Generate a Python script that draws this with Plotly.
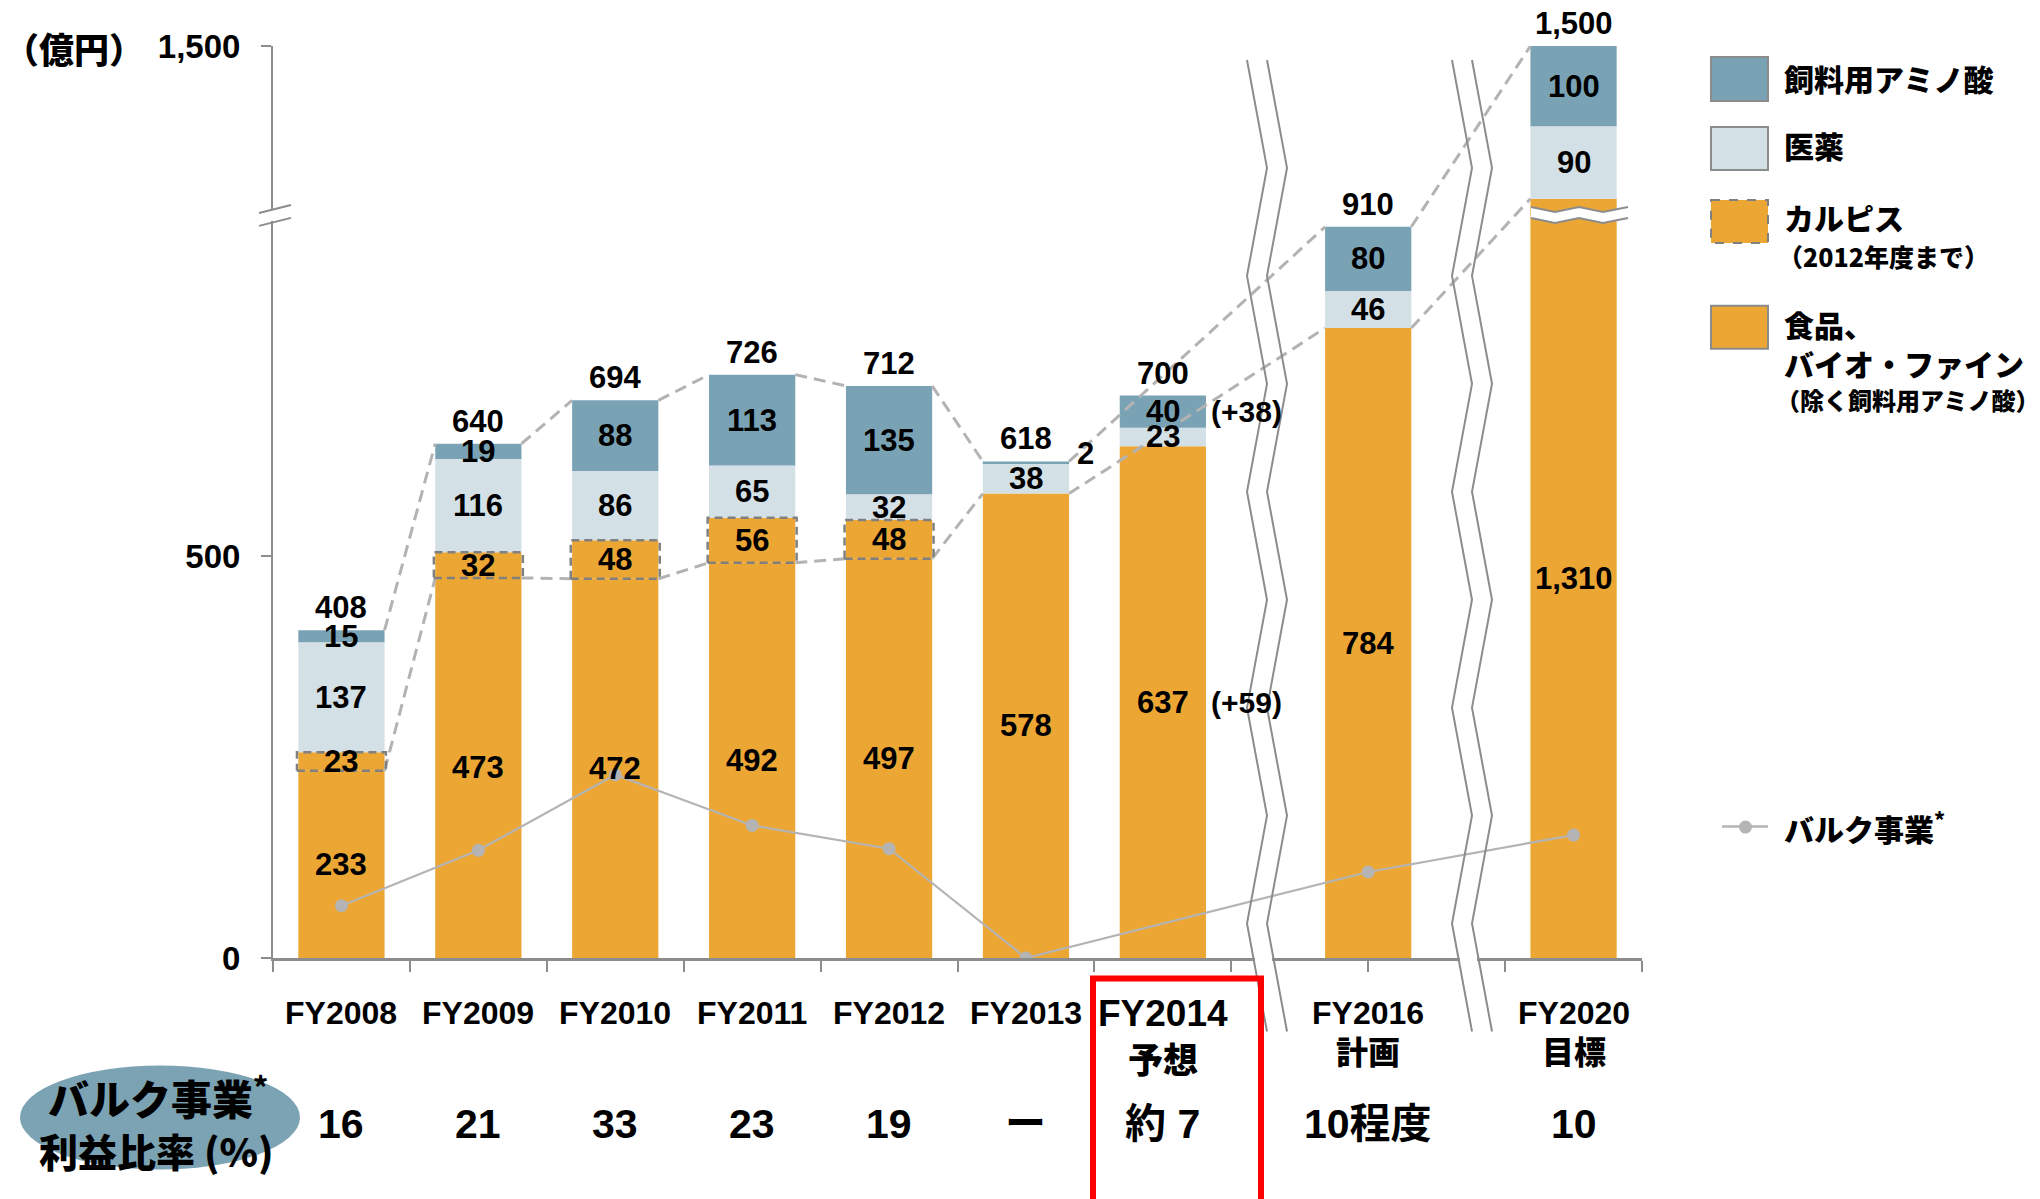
import plotly.graph_objects as go

# ---------------- data ----------------
categories = ["FY2008", "FY2009", "FY2010", "FY2011", "FY2012", "FY2013", "FY2014", "FY2016", "FY2020"]
category_notes = ["", "", "", "", "", "", "予想", "計画", "目標"]
food_bio = [233, 473, 472, 492, 497, 578, 637, 784, 1310]          # 食品、バイオ・ファイン
calpis = [23, 32, 48, 56, 48, None, None, None, None]               # カルピス（2012年度まで）
pharma = [137, 116, 86, 65, 32, 38, 23, 46, 90]                     # 医薬
feed_amino = [15, 19, 88, 113, 135, 2, 40, 80, 100]                 # 飼料用アミノ酸
totals = [408, 640, 694, 726, 712, 618, 700, 910, 1500]
bulk_profit = [65, 134, 228, 165, 136, 0, None, 107, 153]          # バルク事業*
bulk_ratio = ["16", "21", "33", "23", "19", "ー", "約 7", "10程度", "10"]
y_tick_values = [0, 500, 1500]
y_tick_text = ["0", "500", "1,500"]

# ---------------- layout / styling ----------------
X_POS = [0, 1, 2, 3, 4, 5, 6, 7.5, 9]
BAR_W = 0.63
HW = BAR_W / 2
FORECAST_IDX, PREV_IDX = 6, 5
CONNECT_PAIRS = [(0, 1), (1, 2), (2, 3), (3, 4), (4, 5), (5, 7), (7, 8)]
BREAK_FROM, BREAK_GAP = 930, 365


def to_axis(v):
    if v is None:
        return None
    return v if v <= BREAK_FROM else max(BREAK_FROM, v - BREAK_GAP)


FIG_W, FIG_H = 2040, 1199
PL, PR, PT, PB = 273, 1642, 46, 958.5


def pxx(x):
    return (x - PL) / (PR - PL)


def pxy(y):
    return (PB - y) / (PB - PT)


C_FEED = "#79A3B4"
C_PHARMA = "#D3E0E6"
C_FOOD = "#ECA634"
C_AX = "#8C8C8C"
C_DASH = "#B3B3B3"
C_BULK = "#B4B4B4"
C_OVAL = "#7CA3B4"
LAT = "Liberation Sans, Arial, Noto Sans CJK JP, sans-serif"
JP = "Noto Sans CJK JP, Liberation Sans, sans-serif"

n = len(categories)
cal = [c or 0 for c in calpis]
lvl1 = list(food_bio)
lvl2 = [f + c for f, c in zip(lvl1, cal)]
lvl3 = [a + p for a, p in zip(lvl2, pharma)]
lvl4 = [a + f for a, f in zip(lvl3, feed_amino)]

fig = go.Figure()


def add_bar(bottom, top, color, mask=None):
    b = [to_axis(v) for v in bottom]
    t = [to_axis(v) for v in top]
    y = [(tt - bb) if (mask is None or mask[i]) else None for i, (bb, tt) in enumerate(zip(b, t))]
    fig.add_trace(go.Bar(x=X_POS, y=y, base=b, width=BAR_W,
                         marker=dict(color=color, line=dict(width=0)),
                         showlegend=False, hoverinfo="skip"))


add_bar([0] * n, lvl1, C_FOOD)
add_bar(lvl1, lvl2, C_FOOD, mask=[c is not None for c in calpis])
add_bar(lvl2, lvl3, C_PHARMA)
add_bar(lvl3, lvl4, C_FEED)

# dashed connectors (totals and food tops)
cx, cy_top, cy_food = [], [], []
for a, b in CONNECT_PAIRS:
    cx += [X_POS[a] + HW, X_POS[b] - HW, None]
    cy_top += [to_axis(totals[a]), to_axis(totals[b]), None]
    cy_food += [to_axis(food_bio[a]), to_axis(food_bio[b]), None]
for yy in (cy_top, cy_food):
    fig.add_trace(go.Scatter(x=cx, y=yy, mode="lines", showlegend=False, hoverinfo="skip",
                             line=dict(color=C_DASH, width=3, dash="12px,7px")))

# dashed outline of Calpis segments
ox, oy = [], []
for i in range(n):
    if calpis[i] is None:
        continue
    xl, xr = X_POS[i] - HW - 0.01, X_POS[i] + HW + 0.01
    b, t = to_axis(lvl1[i]), to_axis(lvl2[i])
    ox += [xl, xr, xr, xl, xl, None]
    oy += [b, b, t, t, b, None]
fig.add_trace(go.Scatter(x=ox, y=oy, mode="lines", showlegend=False, hoverinfo="skip",
                         line=dict(color="#808080", width=2.5, dash="8px,5px")))

# bulk business line
bx = [X_POS[i] for i in range(n) if bulk_profit[i] is not None]
by = [bulk_profit[i] for i in range(n) if bulk_profit[i] is not None]
fig.add_trace(go.Scatter(x=bx, y=by, mode="lines+markers", showlegend=False, hoverinfo="skip",
                         line=dict(color=C_BULK, width=2.2),
                         marker=dict(color=C_BULK, size=13)))

# ---------------- annotations ----------------
ann = []


def label(x, yv, text, size=31, family=LAT, xanchor="center", yanchor="middle",
          xshift=0, yshift=0, xref="x", yref="y", weight=700):
    ann.append(dict(x=x, y=yv, xref=xref, yref=yref, text=text, showarrow=False,
                    font=dict(family=family, size=size, color="#000000", weight=weight),
                    xanchor=xanchor, yanchor=yanchor, xshift=xshift, yshift=yshift))


def mid(a, b):
    return (to_axis(a) + to_axis(b)) / 2


for i in range(n):
    x = X_POS[i]
    label(x, mid(0, lvl1[i]), f"{food_bio[i]:,}")
    if calpis[i] is not None:
        label(x, mid(lvl1[i], lvl2[i]), f"{calpis[i]:,}")
    label(x, mid(lvl2[i], lvl3[i]), f"{pharma[i]:,}")
    if feed_amino[i] >= 5:
        label(x, mid(lvl3[i], lvl4[i]), f"{feed_amino[i]:,}")
    else:
        label(x + HW, to_axis(lvl4[i]), f"{feed_amino[i]:,}", xanchor="left", xshift=6, yshift=8)
    label(x, to_axis(totals[i]), f"{totals[i]:,}", yanchor="bottom", yshift=3)

# forecast deltas
d_feed = feed_amino[FORECAST_IDX] - feed_amino[PREV_IDX]
d_food = food_bio[FORECAST_IDX] - food_bio[PREV_IDX]
xf = X_POS[FORECAST_IDX] + HW
label(xf, mid(lvl3[FORECAST_IDX], lvl4[FORECAST_IDX]), f"(+{d_feed})", xanchor="left", xshift=3, size=30)
label(xf, mid(0, lvl1[FORECAST_IDX]), f"(+{d_food})", xanchor="left", xshift=3, size=30)

# category labels & bottom ratio row
for i in range(n):
    big = i == FORECAST_IDX
    label(X_POS[i], pxy(1014), categories[i], size=37 if big else 32, yref="paper")
    if category_notes[i]:
        label(X_POS[i], pxy(1058 if big else 1051), category_notes[i], size=35 if big else 32,
              family=JP, yref="paper", weight=900)
    label(X_POS[i], pxy(1125), bulk_ratio[i], size=41, yref="paper")

# unit label, oval text, legend text
label(pxx(74), pxy(48), "（億円）", size=35, family=JP, xref="paper", yref="paper", weight=900)
label(pxx(158), pxy(1097), "バルク事業<sup>*</sup>", size=41, family=JP, xref="paper", yref="paper", weight=900)
label(pxx(156), pxy(1151), "利益比率 (%)", size=39, family=JP, xref="paper", yref="paper", weight=900)

legend_text = [
    (1782, 78, "飼料用アミノ酸", 30),
    (1782, 145, "医薬", 30),
    (1782, 217, "カルピス", 30),
    (1776, 256, "（2012年度まで）", 25),
    (1782, 324, "食品、", 30),
    (1782, 363, "バイオ・ファイン", 30),
    (1774, 400, "（除く飼料用アミノ酸）", 24),
    (1782, 827, "バルク事業<sup>*</sup>", 30),
]
for x, y, t, s in legend_text:
    label(pxx(x), pxy(y), t, size=s, family=JP, xanchor="left", xref="paper", yref="paper", weight=900)

# ---------------- shapes ----------------
shapes = []


def rect(x0, y0, x1, y1, fill=None, lc=None, lw=0, dash="solid", layer="above"):
    shapes.append(dict(type="rect", xref="paper", yref="paper",
                       x0=pxx(x0), x1=pxx(x1), y0=pxy(y0), y1=pxy(y1),
                       fillcolor=fill if fill else "rgba(0,0,0,0)",
                       line=dict(color=lc if lc else "rgba(0,0,0,0)", width=lw, dash=dash),
                       layer=layer))


def path(points, lc=C_AX, lw=2, fill=None, close=False):
    p = "M " + " L ".join(f"{pxx(x):.5f},{pxy(y):.5f}" for x, y in points) + (" Z" if close else "")
    shapes.append(dict(type="path", path=p, xref="paper", yref="paper",
                       line=dict(color=lc, width=lw),
                       fillcolor=fill if fill else "rgba(0,0,0,0)", layer="above"))


# vertical zigzag breaks
for x0 in (1247, 1452):
    rect(x0 + 8, 952, x0 + 25, 967, fill="#FFFFFF")
    ys = [60 + 108 * k for k in range(10)]
    for dx in (0, 20):
        pts = [(x0 + dx + (20 if k % 2 else 0), y) for k, y in enumerate(ys)]
        path(pts, lw=2)

# y-axis break mark
rect(266, 209, 281, 221, fill="#FFFFFF")
path([(259, 213), (291, 205)], lw=2)
path([(259, 226), (291, 218)], lw=2)

# wave break inside FY2020 bar
wx = [1531, 1555, 1579, 1603, 1628]
top = [(x, 207 if k % 2 == 0 else 212) for k, x in enumerate(wx)]
bot = [(x, 218 if k % 2 == 0 else 223) for k, x in enumerate(wx)]
path(top + bot[::-1], lc="rgba(0,0,0,0)", lw=0, fill="#FFFFFF", close=True)
path(top, lw=2)
path(bot, lw=2)

# red highlight box
rect(1093, 979, 1261, 1212, lc="#FF0000", lw=6)

# oval behind bulk label
shapes.append(dict(type="circle", xref="paper", yref="paper", x0=pxx(20), x1=pxx(300),
                   y0=pxy(1066), y1=pxy(1170), fillcolor=C_OVAL, line=dict(width=0), layer="above"))

# legend swatches
rect(1711, 57, 1768, 101, fill=C_FEED, lc=C_AX, lw=2)
rect(1711, 127, 1768, 170, fill=C_PHARMA, lc=C_AX, lw=2)
rect(1711, 200, 1768, 243, fill=C_FOOD, lc="#808080", lw=2, dash="dash")
rect(1711, 306, 1768, 349, fill=C_FOOD, lc=C_AX, lw=2)
path([(1722, 827), (1768, 827)], lc=C_BULK, lw=2.5)
shapes.append(dict(type="circle", xref="paper", yref="paper", x0=pxx(1739), x1=pxx(1752),
                   y0=pxy(821), y1=pxy(834), fillcolor=C_BULK, line=dict(width=0), layer="above"))

# ---------------- layout ----------------
fig.update_layout(
    width=FIG_W, height=FIG_H, autosize=False,
    margin=dict(l=PL, r=FIG_W - PR, t=PT, b=FIG_H - PB, pad=0),
    paper_bgcolor="#FFFFFF", plot_bgcolor="rgba(0,0,0,0)",
    barmode="overlay", showlegend=False,
    annotations=ann, shapes=shapes,
    xaxis=dict(range=[-0.5, 9.5], showgrid=False, zeroline=False, showline=True,
               linecolor=C_AX, linewidth=3, ticks="outside", ticklen=11, tickwidth=2,
               tickcolor=C_AX, tickvals=[-0.5, 0.5, 1.5, 2.5, 3.5, 4.5, 5.5, 6.5, 7.5, 8.5, 9.5],
               showticklabels=False, fixedrange=True),
    yaxis=dict(range=[0, to_axis(1500)], showgrid=False, zeroline=False, showline=True,
               linecolor=C_AX, linewidth=2, ticks="outside", ticklen=10, tickwidth=2,
               tickcolor=C_AX, tickvals=[to_axis(v) for v in y_tick_values], ticktext=y_tick_text,
               tickfont=dict(family=LAT, size=33, color="#000000", weight="bold"),
               ticklabelstandoff=14, fixedrange=True),
)

fig.write_html("out.html", config={"displayModeBar": False},
               post_script="document.body.style.margin='0';document.body.style.overflow='hidden';")
